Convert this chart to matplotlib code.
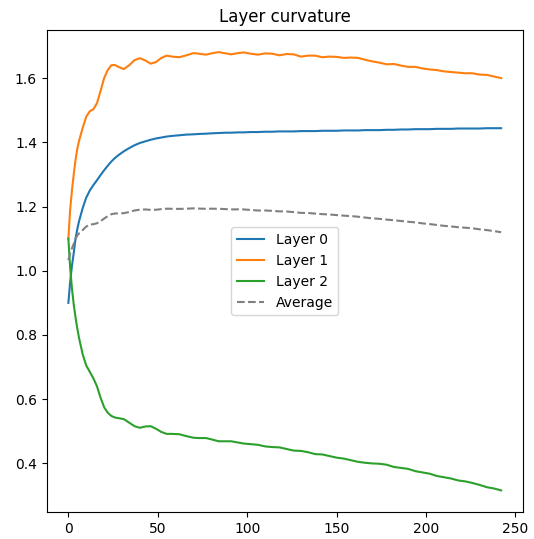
import numpy as np
import matplotlib
matplotlib.use("Agg")
import matplotlib.pyplot as plt

# sample positions (epochs)
steps = [0, 1, 2, 3, 4, 5, 6, 7, 8, 10, 12, 14, 16, 18, 20, 22, 24, 26, 28, 31,
         34, 37, 40, 43, 46, 49, 52, 55, 58, 62, 66, 70, 73, 77, 80, 84, 88, 91,
         95, 98, 102, 106, 110, 114, 118, 122, 126, 130, 134, 138, 142, 146, 150,
         154, 158, 162, 166, 170, 174, 178, 182, 186, 190, 194, 198, 202, 206,
         210, 214, 218, 222, 226, 230, 234, 238, 242]

layer0 = [0.900, 0.965, 1.015, 1.055, 1.100, 1.130, 1.155, 1.175, 1.195, 1.228,
          1.250, 1.267, 1.282, 1.298, 1.313, 1.327, 1.340, 1.351, 1.360, 1.372,
          1.382, 1.391, 1.398, 1.403, 1.408, 1.412, 1.415, 1.418, 1.420, 1.422,
          1.424, 1.425, 1.426, 1.427, 1.428, 1.429, 1.430, 1.430, 1.431, 1.431,
          1.432, 1.432, 1.433, 1.433, 1.434, 1.434, 1.434, 1.435, 1.435, 1.435,
          1.436, 1.436, 1.436, 1.437, 1.437, 1.437, 1.438, 1.438, 1.438, 1.439,
          1.439, 1.440, 1.440, 1.441, 1.441, 1.441, 1.442, 1.442, 1.442, 1.443,
          1.443, 1.443, 1.443, 1.444, 1.444, 1.444]

layer1 = [1.100, 1.190, 1.250, 1.300, 1.345, 1.380, 1.405, 1.425, 1.445, 1.480,
          1.497, 1.503, 1.522, 1.560, 1.600, 1.625, 1.640, 1.641, 1.635, 1.628,
          1.640, 1.656, 1.662, 1.655, 1.645, 1.650, 1.663, 1.670, 1.667, 1.665,
          1.671, 1.678, 1.676, 1.673, 1.677, 1.681, 1.677, 1.674, 1.678, 1.680,
          1.676, 1.673, 1.677, 1.676, 1.671, 1.675, 1.674, 1.667, 1.670, 1.670,
          1.665, 1.667, 1.666, 1.663, 1.664, 1.663, 1.657, 1.652, 1.648, 1.643,
          1.644, 1.639, 1.635, 1.635, 1.630, 1.627, 1.625, 1.621, 1.619, 1.617,
          1.615, 1.615, 1.611, 1.610, 1.605, 1.600]

layer2 = [1.100, 1.010, 0.945, 0.895, 0.855, 0.820, 0.790, 0.765, 0.740, 0.705,
          0.685, 0.665, 0.640, 0.605, 0.575, 0.558, 0.548, 0.543, 0.541, 0.538,
          0.527, 0.516, 0.511, 0.515, 0.516, 0.508, 0.498, 0.492, 0.492, 0.491,
          0.485, 0.480, 0.479, 0.479, 0.475, 0.469, 0.469, 0.469, 0.465, 0.462,
          0.460, 0.458, 0.453, 0.451, 0.450, 0.445, 0.440, 0.439, 0.435, 0.429,
          0.428, 0.423, 0.418, 0.415, 0.410, 0.405, 0.402, 0.400, 0.399, 0.396,
          0.389, 0.386, 0.383, 0.376, 0.372, 0.368, 0.361, 0.357, 0.353, 0.347,
          0.344, 0.339, 0.333, 0.326, 0.322, 0.316]

labels = ["Layer 0", "Layer 1", "Layer 2"]

# average over the layers
average = np.mean([layer0, layer1, layer2], axis=0)

fig, ax = plt.subplots(figsize=(5.34, 5.39), dpi=100)
fig.subplots_adjust(left=0.0875, right=0.979, bottom=0.0495, top=0.944)

for vals, lab in zip([layer0, layer1, layer2], labels):
    ax.plot(steps, vals, label=lab)
ax.plot(steps, average, color="gray", linestyle="--", label="Average")

ax.set_title("Layer curvature")
ax.legend(loc="center")

plt.savefig("out.png", dpi=100)
